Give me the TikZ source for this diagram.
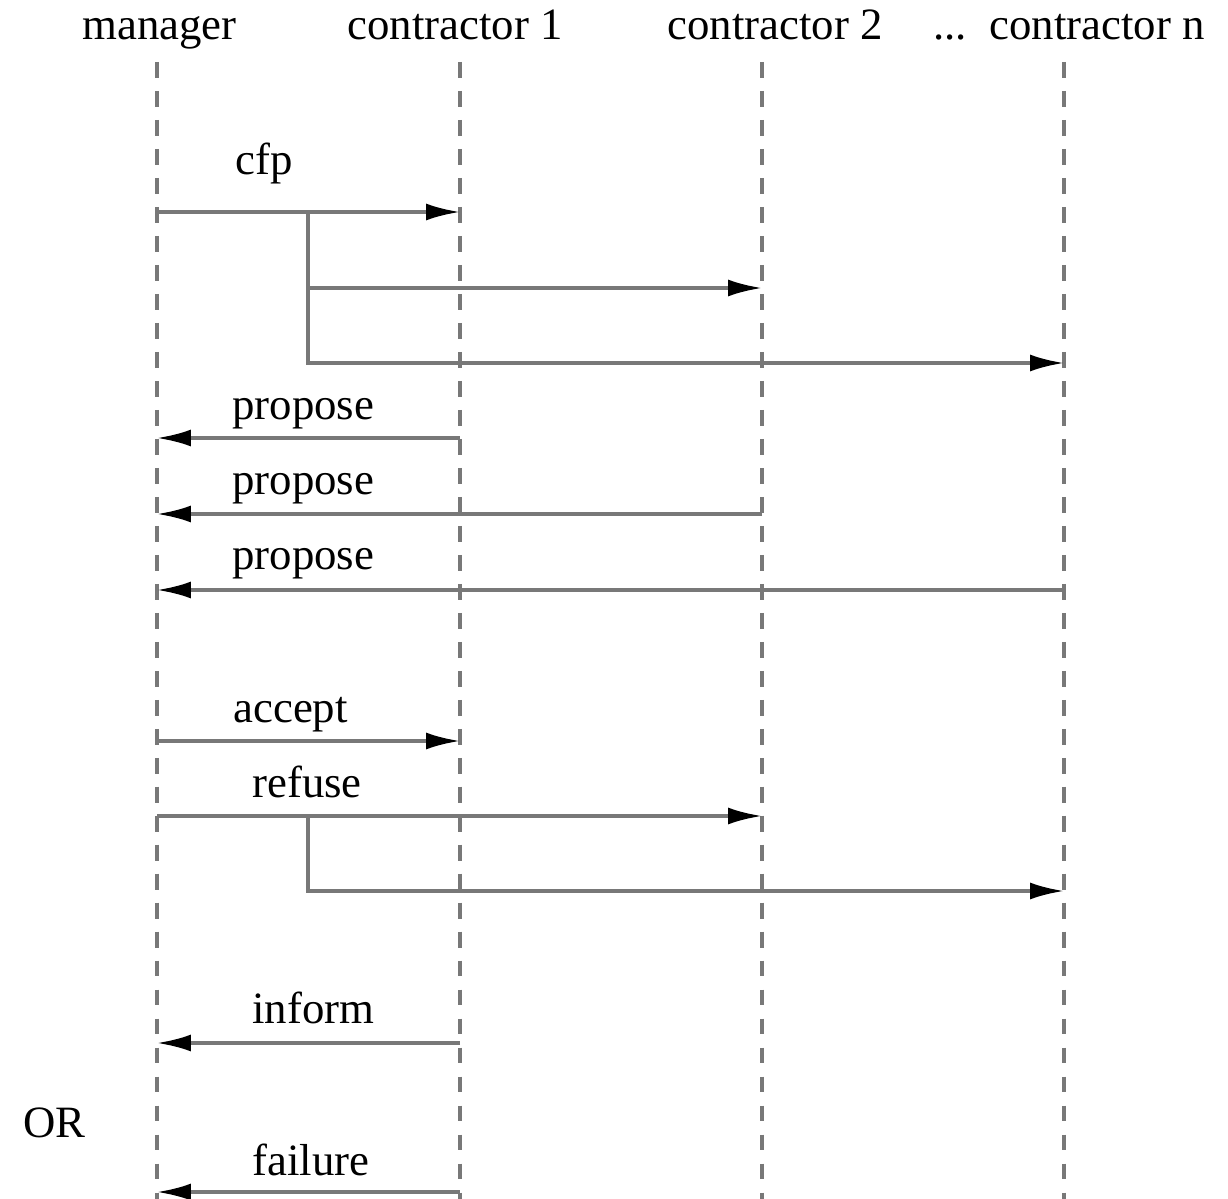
\documentclass[tikz,border=0pt]{standalone}
\usepackage{fontspec}
\setmainfont{Liberation Serif}
\usepackage{xcolor}
\usetikzlibrary{arrows.meta}

\definecolor{linegray}{gray}{0.47}

\tikzset{
  txt/.style={anchor=base west, inner sep=0pt, font=\fontsize{25.5}{30}\selectfont},
  lifeline/.style={draw=linegray, line width=2pt, dash pattern=on 9pt off 7.5pt},
  msg/.style={draw=linegray, line width=2pt, -{Latex[length=0.68cm,width=0.34cm,color=black]}},
  branch/.style={draw=linegray, line width=2pt}
}

\begin{document}
\begin{tikzpicture}[x=0.02cm,y=-0.02cm]
\useasboundingbox (0,0) rectangle (1228,1199);

% heads of the lifelines
\node[txt] (manager) at (82,40) {manager};
\node[txt] (con1) at (347,40) {contractor 1};
\node[txt] (con2) at (667,40) {contractor 2};
\node[txt] (conn) at (933,40) {...\enspace contractor n};

\coordinate (manager top) at (157,62);  \coordinate (manager bot) at (157,1199);
\coordinate (con1 top) at (460,62);     \coordinate (con1 bot) at (460,1199);
\coordinate (con2 top) at (762,62);     \coordinate (con2 bot) at (762,1199);
\coordinate (conn top) at (1064,62);    \coordinate (conn bot) at (1064,1199);
\draw[lifeline] (manager top) -- (manager bot);
\draw[lifeline] (con1 top) -- (con1 bot);
\draw[lifeline] (con2 top) -- (con2 bot);
\draw[lifeline] (conn top) -- (conn bot);

% cfp
\coordinate (cfp m) at (157,212);
\coordinate (cfp fork) at (308,212);
\coordinate (cfp 1) at (460,212);
\coordinate (cfp 2) at (762,288);
\coordinate (cfp n) at (1064,363);
\draw[msg] (cfp m) -- (cfp 1);
\draw[msg] (cfp fork) |- (cfp 2);
\draw[msg] (cfp fork) |- (cfp n);
\node[txt] (cfp) at (235,175) {cfp};

% propose
\coordinate (prop 1) at (460,438);  \coordinate (prop 1 m) at (157,438);
\coordinate (prop 2) at (762,514);  \coordinate (prop 2 m) at (157,514);
\coordinate (prop n) at (1064,590); \coordinate (prop n m) at (157,590);
\draw[msg] (prop 1) -- (prop 1 m);
\draw[msg] (prop 2) -- (prop 2 m);
\draw[msg] (prop n) -- (prop n m);
\node[txt] (propose1) at (232,420) {propose};
\node[txt] (propose2) at (232,495) {propose};
\node[txt] (proposen) at (232,570) {propose};

% accept / refuse
\coordinate (acc m) at (157,741); \coordinate (acc 1) at (460,741);
\draw[msg] (acc m) -- (acc 1);
\node[txt] (accept) at (233,722) {accept};

\coordinate (ref m) at (157,816);
\coordinate (ref fork) at (308,816);
\coordinate (ref 2) at (762,816);
\coordinate (ref n) at (1064,891);
\draw[msg] (ref m) -- (ref 2);
\draw[msg] (ref fork) |- (ref n);
\node[txt] (refuse) at (252,797) {refuse};

% inform OR failure
\coordinate (inf 1) at (460,1043); \coordinate (inf m) at (157,1043);
\draw[msg] (inf 1) -- (inf m);
\node[txt] (inform) at (252,1023) {inform};

\node[txt] (or) at (23,1137) {OR};

\coordinate (fail 1) at (460,1192); \coordinate (fail m) at (157,1192);
\draw[msg] (fail 1) -- (fail m);
\node[txt] (failure) at (252,1175) {failure};

\end{tikzpicture}
\end{document}
